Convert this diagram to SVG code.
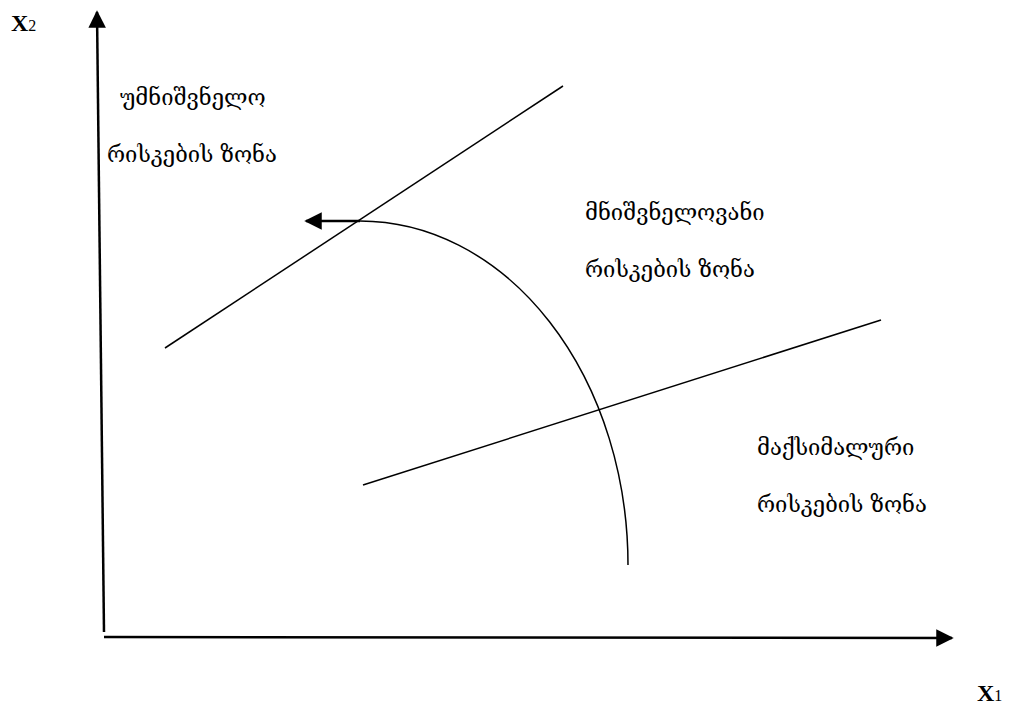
<svg xmlns="http://www.w3.org/2000/svg" width="1017" height="704" viewBox="0 0 1017 704">
<style>
.ln{stroke:#000;stroke-width:1.5;fill:none}
.ax{stroke:#000;stroke-width:2.5;fill:none}
.t{font-family:"DejaVu Serif","DejaVu Sans",serif;font-size:22px;fill:#000}
.lab{font-family:"Liberation Serif",serif;font-weight:bold;font-size:24px;fill:#000}
</style>
<defs>
<marker id="ah2" viewBox="0 0 10 10" refX="9" refY="5" markerWidth="7" markerHeight="7" orient="auto"><path d="M0,0L10,5L0,10z" fill="#000"/></marker>
</defs>
<g id="axes">
<line class="ax" x1="104" y1="632" x2="97" y2="12" marker-end="url(#ah2)"/>
<line class="ax" x1="104" y1="637" x2="952" y2="638" marker-end="url(#ah2)"/>
</g>
<g id="connectors">
<line class="ln" x1="165" y1="348" x2="563" y2="86"/>
<line class="ln" x1="363" y1="485" x2="881" y2="320"/>
<path class="ln" d="M628,565 A268,344 0 0 0 360,221"/>
<line class="ax" x1="360" y1="221" x2="306" y2="221" marker-end="url(#ah2)"/>
</g>
<g id="x2label"><text class="lab" x="11" y="31">X<tspan font-size="16" font-weight="normal">2</tspan></text></g>
<g id="x1label"><text class="lab" x="977" y="701">X<tspan font-size="16" font-weight="normal">1</tspan></text></g>
<g id="zone1">
<text class="t" x="120" y="105">უმნიშვნელო</text>
<text class="t" x="107" y="162">რისკების ზონა</text>
</g>
<g id="zone2">
<text class="t" x="585" y="220">მნიშვნელოვანი</text>
<text class="t" x="585" y="277">რისკების ზონა</text>
</g>
<g id="zone3">
<text class="t" x="757" y="455">მაქსიმალური</text>
<text class="t" x="757" y="512">რისკების ზონა</text>
</g>
</svg>
